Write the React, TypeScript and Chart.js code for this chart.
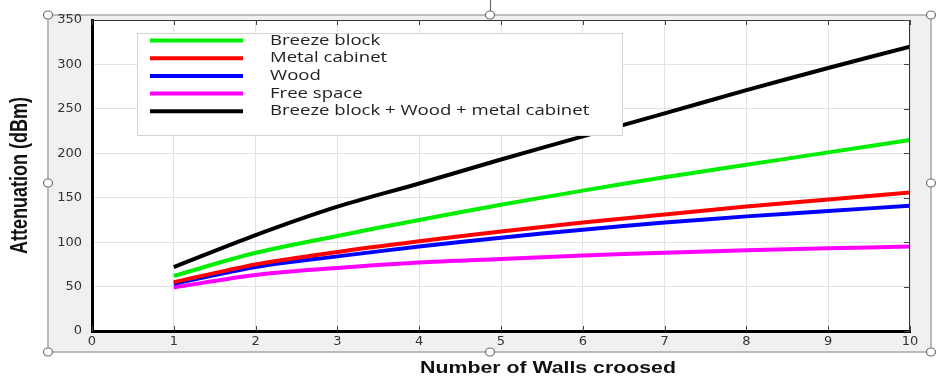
import React, { useEffect, useRef } from "react";
import { Chart, registerables } from "chart.js";

Chart.register(...registerables);

const walls = [1, 2, 3, 4, 5, 6, 7, 8, 9, 10];
const breezeBlock = [62, 88, 107, 125, 142, 158, 173, 187, 201, 215];
const metalCabinet = [55, 75, 89, 101, 112, 122, 131, 140, 148, 156];
const wood = [53, 72, 84, 95, 105, 114, 122, 129, 135, 141];
const freeSpace = [49, 63, 71, 77, 81, 85, 88, 91, 93, 95];
const combined = [72, 108, 140, 166, 193, 219, 245, 271, 296, 320];

const seriesNames = [
  "Breeze block",
  "Metal cabinet",
  "Wood",
  "Free space",
  "Breeze block + Wood + metal cabinet",
];
const seriesColors = ["#00ee00", "#ff0000", "#0000ff", "#ff00ff", "#000000"];
const seriesValues = [breezeBlock, metalCabinet, wood, freeSpace, combined];

const xTitle = "Number of Walls croosed";
const yTitle = "Attenuation (dBm)";

const decor = {
  id: "decor",
  beforeDraw(chart: any) {
    const ctx = chart.ctx;
    const a = chart.chartArea;
    ctx.save();
    ctx.fillStyle = "#ffffff";
    ctx.fillRect(0, 0, chart.width, chart.height);
    ctx.fillStyle = "#f0f0f0";
    ctx.fillRect(48, 15, 883, 337);
    ctx.strokeStyle = "#a8a8a8";
    ctx.lineWidth = 1.5;
    ctx.strokeRect(48, 15, 883, 337);
    ctx.fillStyle = "#ffffff";
    ctx.fillRect(a.left, a.top, a.right - a.left, a.bottom - a.top);
    ctx.restore();
  },
  afterDraw(chart: any) {
    const ctx = chart.ctx;
    const a = chart.chartArea;
    const xs = chart.scales.x;
    const ys = chart.scales.y;
    ctx.save();
    // top / right thin borders
    ctx.strokeStyle = "#333333";
    ctx.lineWidth = 1;
    ctx.beginPath();
    ctx.moveTo(a.left, a.top + 0.5);
    ctx.lineTo(a.right, a.top + 0.5);
    ctx.moveTo(a.right - 0.5, a.top);
    ctx.lineTo(a.right - 0.5, a.bottom);
    ctx.stroke();
    // inward ticks
    ctx.strokeStyle = "#444444";
    ctx.beginPath();
    xs.ticks.forEach((t: any) => {
      const px = Math.round(xs.getPixelForValue(t.value)) + 0.5;
      ctx.moveTo(px, a.top);
      ctx.lineTo(px, a.top + 5);
      ctx.moveTo(px, a.bottom);
      ctx.lineTo(px, a.bottom - 5);
    });
    ys.ticks.forEach((t: any) => {
      const py = Math.round(ys.getPixelForValue(t.value)) + 0.5;
      ctx.moveTo(a.right, py);
      ctx.lineTo(a.right - 6, py);
    });
    ctx.stroke();

    // legend
    const lx = 137, ly = 33, lw = 485, lh = 102;
    ctx.fillStyle = "#ffffff";
    ctx.fillRect(lx, ly, lw, lh);
    ctx.strokeStyle = "#d4d4d4";
    ctx.lineWidth = 1;
    ctx.strokeRect(lx + 0.5, ly + 0.5, lw, lh);
    ctx.font = "14.5px 'Open Sans'";
    ctx.textBaseline = "middle";
    ctx.textAlign = "left";
    chart.data.datasets.forEach((ds: any, i: number) => {
      const y = 40.5 + i * 17.7;
      ctx.strokeStyle = ds.borderColor;
      ctx.lineWidth = 4;
      ctx.beginPath();
      ctx.moveTo(150, y);
      ctx.lineTo(243, y);
      ctx.stroke();
      ctx.fillStyle = "#222222";
      ctx.save();
      ctx.translate(270, y);
      ctx.scale(1.28, 1);
      ctx.fillText(ds.label, 0, 0);
      ctx.restore();
    });

    // titles
    ctx.fillStyle = "#111111";
    ctx.textAlign = "center";
    ctx.save();
    ctx.translate(548, 369);
    ctx.scale(1.33, 1);
    ctx.font = "bold 16px 'Liberation Sans'";
    ctx.fillText(xTitle, 0, 0);
    ctx.restore();
    ctx.save();
    ctx.translate(21, (a.top + a.bottom) / 2);
    ctx.rotate(-Math.PI / 2);
    ctx.scale(1, 1.3);
    ctx.font = "bold 18px 'Liberation Sans'";
    ctx.fillText(yTitle, 0, 0);
    ctx.restore();

    // frame handles
    const handles = [
      [48, 15], [490, 15], [931, 15],
      [48, 183], [931, 183],
      [48, 352], [490, 352], [931, 352],
    ];
    ctx.strokeStyle = "#6f6f6f";
    ctx.lineWidth = 1.2;
    ctx.beginPath();
    ctx.moveTo(490.5, 0);
    ctx.lineTo(490.5, 11);
    ctx.stroke();
    handles.forEach(([hx, hy]) => {
      ctx.beginPath();
      ctx.ellipse(hx, hy, 4.5, 4, 0, 0, Math.PI * 2);
      ctx.fillStyle = "#ffffff";
      ctx.fill();
      ctx.stroke();
    });
    ctx.restore();
  },
};

export default function App() {
  const ref = useRef<HTMLCanvasElement | null>(null);
  useEffect(() => {
    if (!ref.current) return;
    const chart = new Chart(ref.current, {
      type: "line",
      data: {
        datasets: seriesNames.map((name, i) => ({
          label: name,
          data: walls.map((w, j) => ({ x: w, y: seriesValues[i][j] })),
          borderColor: seriesColors[i],
          backgroundColor: seriesColors[i],
          borderWidth: 4,
          pointRadius: 0,
          tension: 0.3,
          fill: false,
        })),
      },
      options: {
        animation: false,
        responsive: false,
        layout: { padding: { top: 20, right: 35, left: 0, bottom: 0 } },
        plugins: { legend: { display: false }, tooltip: { enabled: false } },
        scales: {
          x: {
            type: "linear",
            min: 0,
            max: 10,
            afterFit: (s: any) => { s.height = 52; },
            ticks: {
              stepSize: 1,
              autoSkip: false,
              maxRotation: 0,
              padding: 3,
              color: "#333333",
              font: { family: "'DejaVu Sans'", size: 13 },
            },
            grid: { color: "#e2e2e2", drawTicks: false, lineWidth: 1 },
            border: { color: "#000000", width: 3 },
          },
          y: {
            min: 0,
            max: 350,
            afterFit: (s: any) => { s.width = 92; },
            ticks: {
              stepSize: 50,
              padding: 10,
              color: "#333333",
              font: { family: "'DejaVu Sans'", size: 13 },
            },
            grid: { color: "#e2e2e2", drawTicks: false, lineWidth: 1 },
            border: { color: "#000000", width: 3 },
          },
        },
      },
      plugins: [decor],
    });
    return () => chart.destroy();
  }, []);
  return (
    <div style={{ position: "absolute", left: 0, top: 0, width: 945, height: 383 }}>
      <canvas ref={ref} width={945} height={383} style={{ width: 945, height: 383, display: "block" }} />
    </div>
  );
}
